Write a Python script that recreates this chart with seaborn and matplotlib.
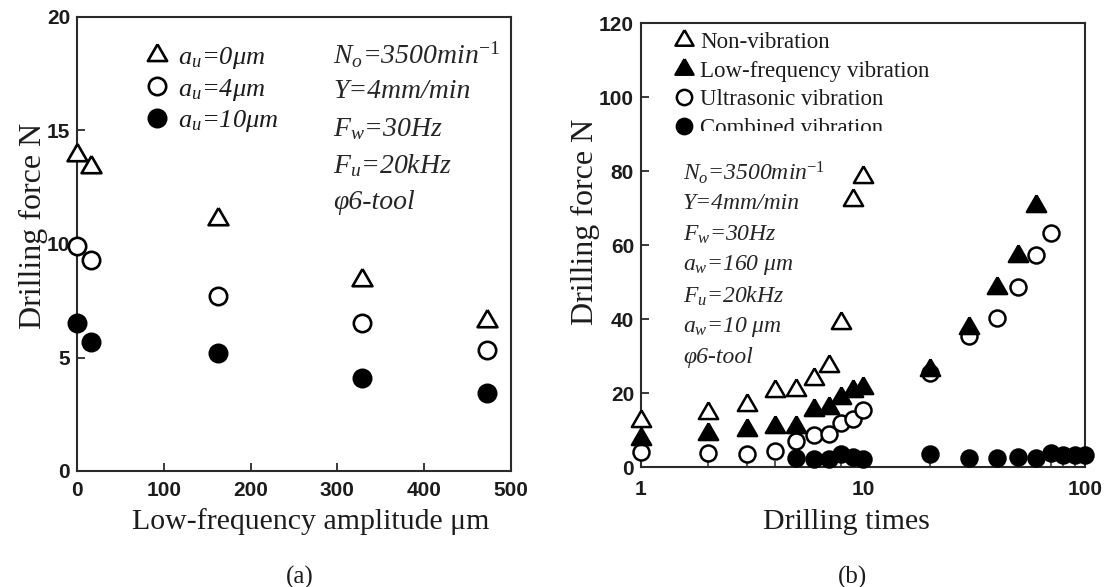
import numpy as np
import pandas as pd
import matplotlib
matplotlib.use("Agg")
import matplotlib.pyplot as plt
import seaborn as sns
from matplotlib.lines import Line2D
from matplotlib.ticker import FixedLocator, FixedFormatter, LogLocator, NullFormatter
from matplotlib.transforms import Bbox, TransformedBbox

# ---- (a) drilling force against low-frequency amplitude ----
amp_um = [0, 16, 162, 328, 472]
force_au0 = [13.9, 13.4, 11.1, 8.4, 6.6]
force_au4 = [9.9, 9.3, 7.7, 6.5, 5.35]
force_au10 = [6.5, 5.7, 5.2, 4.1, 3.45]
legend_a = [r"$a_u$=0μm", r"$a_u$=4μm", r"$a_u$=10μm"]
notes_a = [r"$N_o$=3500min$^{\mathit{-1}}$", "Y=4mm/min", r"$F_w$=30Hz",
           r"$F_u$=20kHz", "φ6-tool"]

# ---- (b) drilling force against number of holes drilled ----
times_non = [1, 2, 3, 4, 5, 6, 7, 8, 9, 10]
force_non = [12.5, 14.6, 16.8, 20.6, 20.8, 24.0, 27.4, 38.9, 72.2, 78.5]
times_low = [1, 2, 3, 4, 5, 6, 7, 8, 9, 10, 20, 30, 40, 50, 60]
force_low = [7.6, 8.9, 10.1, 11.0, 11.0, 15.5, 16.0, 18.8, 20.5, 21.5,
             26.3, 37.6, 48.4, 57.1, 70.6]
times_ultra = [1, 2, 3, 4, 5, 6, 7, 8, 9, 10, 20, 30, 40, 50, 60, 70]
force_ultra = [4.2, 3.9, 3.6, 4.4, 7.0, 8.7, 8.9, 11.9, 13.0, 15.5,
               25.5, 35.5, 40.3, 48.8, 57.4, 63.2]
times_comb = [5, 6, 7, 8, 9, 10, 20, 30, 40, 50, 60, 70, 80, 90, 100]
force_comb = [2.5, 2.3, 2.2, 3.6, 2.8, 2.2, 3.6, 2.5, 2.4, 2.7, 2.5, 3.8,
              3.3, 3.2, 3.3]
legend_b = ["Non-vibration", "Low-frequency vibration", "Ultrasonic vibration",
            "Combined vibration"]
notes_b = [r"$N_o$=3500min$^{\mathit{-1}}$", "Y=4mm/min", r"$F_w$=30Hz",
           r"$a_w$=160 μm", r"$F_u$=20kHz", r"$a_w$=10 μm", "φ6-tool"]

sns.set_theme(style="ticks")
plt.rcParams.update({
    "font.family": ["Liberation Sans", "DejaVu Sans"],
    "mathtext.fontset": "custom",
    "mathtext.it": "Liberation Serif:italic",
    "mathtext.rm": "Liberation Serif",
    "mathtext.bf": "Liberation Serif:bold",
})

W, H = 1111, 587
fig = plt.figure(figsize=(W / 100, H / 100), dpi=100)
fig.patch.set_facecolor("white")


def fx(px):
    return px / W


def fy(py):
    return 1 - py / H


INK = "#1c1c1c"
SERIF = "Liberation Serif"
# equilateral triangle marker
TRI = [(0.0, 1.0), (-0.866, -0.5), (0.866, -0.5), (0.0, 1.0)]

ax_a = fig.add_axes([fx(77), fy(471), 434 / W, 454 / H])
ax_b = fig.add_axes([fx(641), fy(467.3), 444 / W, 444 / H])


def draw(ax, x, y, marker, size, filled, z, lw):
    df = pd.DataFrame({"x": x, "y": y})
    sns.scatterplot(data=df, x="x", y="y", ax=ax, marker=marker, s=size ** 2,
                    color="black" if filled else "white", edgecolor="black",
                    linewidth=lw, zorder=z, clip_on=False, legend=False)


def handle(marker, size, filled, lw):
    return Line2D([], [], linestyle="none", marker=marker, markersize=size,
                  markerfacecolor="black" if filled else "white",
                  markeredgecolor="black", markeredgewidth=lw)


def style_axes(ax):
    for s in ax.spines.values():
        s.set_linewidth(1.5)
        s.set_color("#2a2a2a")
        s.set_visible(True)
    ax.set_facecolor("white")
    ax.grid(False)
    ax.tick_params(which="both", direction="in", top=False, right=False,
                   colors="#2a2a2a", labelcolor=INK)
    ax.tick_params(which="major", length=6, width=1.3, labelsize=15)
    ax.tick_params(which="minor", length=4, width=1.1)
    for lab in ax.get_xticklabels() + ax.get_yticklabels():
        lab.set_fontweight("bold")


# ---- panel (a) ----
TRI_A, CIR_A, LW_A = 16.5, 12.5, 1.9
draw(ax_a, amp_um, force_au0, TRI, TRI_A, False, 4, LW_A)
draw(ax_a, amp_um, force_au4, "o", CIR_A, False, 4, LW_A)
draw(ax_a, amp_um, force_au10, "o", CIR_A, True, 4, LW_A)
ax_a.set_xlim(0, 500)
ax_a.set_ylim(0, 20)
ax_a.set_xticks([0, 100, 200, 300, 400, 500])
ax_a.set_yticks([0, 5, 10, 15, 20])
style_axes(ax_a)
ax_a.tick_params(axis="x", pad=7)
ax_a.tick_params(axis="y", pad=5)
ax_a.set_xlabel("Low-frequency amplitude μm", fontsize=21.5, family=SERIF, color=INK)
ax_a.set_ylabel("Drilling force N", fontsize=23, family=SERIF, color=INK)
ax_a.xaxis.label.set_va("center")
ax_a.yaxis.label.set_va("center")
ax_a.xaxis.set_label_coords(0.539, -0.112)
ax_a.yaxis.set_label_coords(-0.101, 0.54)

leg_a = ax_a.legend(
    [handle(TRI, 16, False, 1.9), handle("o", 12.5, False, 1.9), handle("o", 12.5, True, 1.9)],
    legend_a, loc="upper left", bbox_to_anchor=(fx(144), fy(45)),
    bbox_transform=fig.transFigure, frameon=False, borderpad=0, borderaxespad=0,
    handlelength=1.0, handletextpad=0.27, labelspacing=0.21,
    prop={"family": SERIF, "style": "italic", "size": 19})
for t in leg_a.get_texts():
    t.set_color(INK)

for i, s in enumerate(notes_a):
    fig.text(fx(333), fy(55 + 37 * i), s, family=SERIF, style="italic",
             fontsize=20, color="#262626", ha="left", va="center")

# ---- panel (b) ----
TRI_B, CIR_B, LW_B = 16.0, 11.5, 1.8
draw(ax_b, times_ultra, force_ultra, "o", CIR_B, False, 3, LW_B)
draw(ax_b, times_comb, force_comb, "o", CIR_B, True, 3, LW_B)
draw(ax_b, times_low, force_low, TRI, TRI_B, True, 4, LW_B)
draw(ax_b, times_non, force_non, TRI, TRI_B, False, 5, LW_B)
ax_b.set_xscale("log")
ax_b.set_xlim(1, 100)
ax_b.set_ylim(0, 120)
ax_b.xaxis.set_major_locator(FixedLocator([1, 10, 100]))
ax_b.xaxis.set_major_formatter(FixedFormatter(["1", "10", "100"]))
ax_b.xaxis.set_minor_locator(LogLocator(base=10, subs=np.arange(2, 10)))
ax_b.xaxis.set_minor_formatter(NullFormatter())
ax_b.set_yticks([0, 20, 40, 60, 80, 100, 120])
style_axes(ax_b)
ax_b.tick_params(axis="x", pad=9)
ax_b.tick_params(axis="y", pad=5)
ax_b.set_xlabel("Drilling times", fontsize=21.5, family=SERIF, color=INK)
ax_b.set_ylabel("Drilling force N", fontsize=23, family=SERIF, color=INK)
ax_b.xaxis.label.set_va("center")
ax_b.yaxis.label.set_va("center")
ax_b.xaxis.set_label_coords(0.462, -0.123)
ax_b.yaxis.set_label_coords(-0.126, 0.552)

leg_b = ax_b.legend(
    [handle(TRI, 15, False, 1.8), handle(TRI, 15, True, 1.8),
     handle("o", 11, False, 1.8), handle("o", 11, True, 1.8)],
    legend_b, loc="upper left", bbox_to_anchor=(fx(675), fy(32)),
    bbox_transform=fig.transFigure, frameon=False, borderpad=0, borderaxespad=0,
    handlelength=0.8, handletextpad=0.3, labelspacing=0.33,
    prop={"family": SERIF, "size": 16.5})
for t in leg_b.get_texts():
    t.set_color(INK)
# the last legend entry is cut off along its lower edge
cut = TransformedBbox(Bbox([[0, fy(131)], [1, 1]]), fig.transFigure)
last = leg_b.get_texts()[-1]
last.set_clip_box(cut)
last.set_clip_on(True)

for i, s in enumerate(notes_b):
    fig.text(fx(683), fy(173 + 30.8 * i), s, family=SERIF, style="italic",
             fontsize=17, color="#262626", ha="left", va="center")

# panel captions
fig.text(fx(300), fy(577), "(a)", family=SERIF, fontsize=18, color=INK,
         ha="center", va="center")
fig.text(fx(852), fy(577), "(b)", family=SERIF, fontsize=18, color=INK,
         ha="center", va="center")

fig.savefig("out.png", dpi=100, facecolor="white")
